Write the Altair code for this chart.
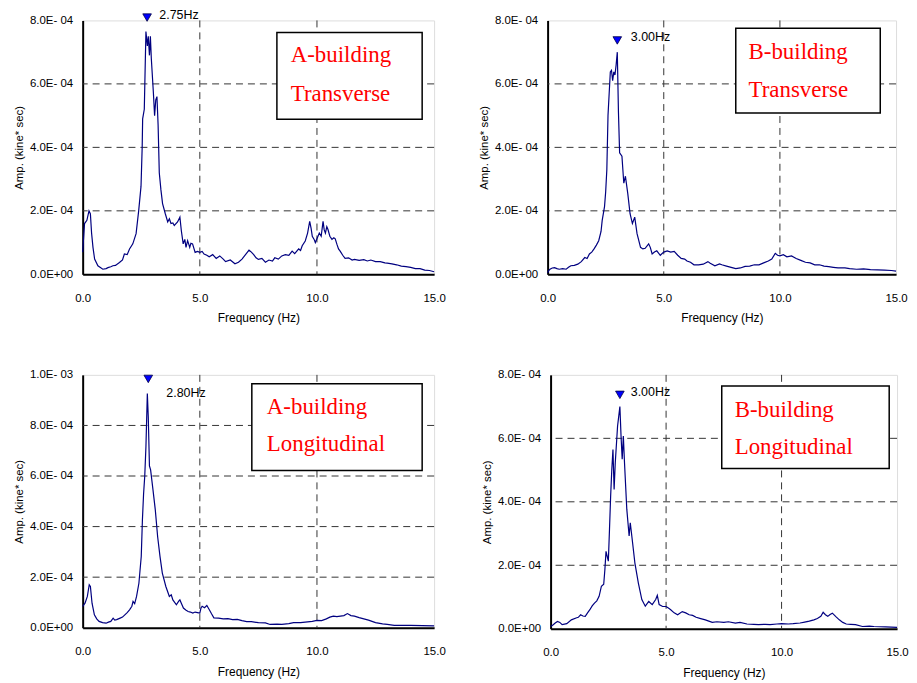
import json
import altair as alt
import pandas as pd

# ---------------- data (amplitudes in units of 1e-4 kine*sec) ----------------
freq_a_trans = [0.0, 0.08, 0.18, 0.27, 0.33, 0.38, 0.44, 0.51, 0.65, 0.86, 1.0, 1.08, 1.2, 1.29, 1.4, 1.57,
                1.7, 1.78, 1.9, 2.0, 2.14, 2.28, 2.39, 2.49, 2.54, 2.56, 2.63, 2.7, 2.76, 2.8, 2.85, 2.89,
                2.93, 3.02, 3.07, 3.12, 3.17, 3.22, 3.27, 3.34, 3.41, 3.53, 3.63, 3.7, 3.77, 3.85, 3.91,
                4.05, 4.15, 4.21, 4.29, 4.36, 4.41, 4.48, 4.57, 4.62, 4.69, 4.8, 4.9, 5.0, 5.1, 5.18, 5.3,
                5.4, 5.55, 5.7, 5.85, 6.0, 6.1, 6.3, 6.5, 6.65, 6.8, 6.95, 7.1, 7.2, 7.3, 7.4, 7.5, 7.65,
                7.8, 7.95, 8.1, 8.2, 8.35, 8.5, 8.65, 8.8, 8.94, 9.05, 9.22, 9.3, 9.37, 9.5, 9.6, 9.69,
                9.75, 9.8, 9.88, 9.93, 10.0, 10.1, 10.18, 10.26, 10.31, 10.36, 10.42, 10.47, 10.55, 10.64,
                10.72, 10.78, 10.85, 10.92, 10.99, 11.1, 11.2, 11.35, 11.5, 11.6, 11.8, 12.0, 12.15, 12.3,
                12.5, 12.7, 12.9, 13.0, 13.2, 13.4, 13.6, 13.8, 14.0, 14.2, 14.4, 14.6, 14.8, 15.0]
amp_a_trans = [0.7, 1.6, 1.7, 2.0, 1.9, 1.3, 0.85, 0.48, 0.27, 0.16, 0.18, 0.21, 0.24, 0.27, 0.28, 0.37,
               0.45, 0.64, 0.62, 0.8, 0.96, 1.28, 2.0, 2.77, 4.0, 4.9, 5.2, 7.65, 7.2, 7.5, 6.9, 7.5,
               6.8, 5.7, 5.0, 5.5, 5.6, 4.7, 3.2, 2.66, 2.23, 1.9, 1.65, 1.75, 1.6, 1.62, 1.54,
               1.65, 1.8, 1.38, 0.96, 1.1, 0.85, 1.06, 0.85, 0.98, 0.96, 0.69, 0.72, 0.69, 0.72, 0.64, 0.6,
               0.55, 0.62, 0.5, 0.58, 0.48, 0.4, 0.45, 0.33, 0.38, 0.48, 0.62, 0.76, 0.7, 0.62, 0.52, 0.47, 0.5,
               0.38, 0.45, 0.42, 0.52, 0.48, 0.58, 0.62, 0.6, 0.73, 0.65, 0.8, 0.75, 0.9, 1.05, 1.3, 1.67,
               1.45, 1.2, 1.1, 1.0, 1.12, 1.3, 1.2, 1.67, 1.4, 1.3, 1.5, 1.41, 1.2, 1.1,
               1.15, 1.12, 0.95, 0.8, 0.73, 0.6, 0.5, 0.52, 0.45, 0.47, 0.44, 0.46, 0.42, 0.45,
               0.4, 0.4, 0.36, 0.35, 0.33, 0.3, 0.26, 0.24, 0.22, 0.18, 0.18, 0.13, 0.12, 0.08]

freq_b_trans = [0.0, 0.05, 0.1, 0.2, 0.3, 0.4, 0.5, 0.65, 0.8, 0.9, 1.0, 1.15, 1.3, 1.45, 1.6, 1.7, 1.8,
                1.9, 2.0, 2.1, 2.2, 2.3, 2.35, 2.45, 2.5, 2.55, 2.6, 2.65, 2.7, 2.75, 2.8, 2.85, 2.9, 2.95,
                3.0, 3.05, 3.1, 3.2, 3.28, 3.35, 3.45, 3.55, 3.65, 3.75, 3.85, 4.0, 4.1, 4.2, 4.35, 4.42,
                4.5, 4.6, 4.7, 4.85, 5.0, 5.15, 5.3, 5.45, 5.6, 5.75, 5.9, 6.0, 6.15, 6.3, 6.5, 6.7, 6.9,
                7.0, 7.2, 7.4, 7.5, 7.7, 7.9, 8.1, 8.3, 8.5, 8.7, 8.9, 9.1, 9.3, 9.5, 9.65, 9.8, 9.9, 10.0,
                10.15, 10.3, 10.5, 10.7, 10.9, 11.1, 11.3, 11.5, 11.7, 11.9, 12.1, 12.3, 12.5, 12.8, 13.0,
                13.3, 13.6, 13.9, 14.2, 14.5, 14.8, 15.0]
amp_b_trans = [0.05, 0.12, 0.16, 0.2, 0.21, 0.18, 0.16, 0.18, 0.16, 0.22, 0.27, 0.28, 0.32, 0.4, 0.53, 0.5, 0.64,
               0.7, 0.8, 0.92, 1.06, 1.35, 1.7, 2.13, 2.6, 3.3, 5.0, 5.7, 6.38, 6.43, 6.1, 6.38, 6.28, 6.6,
               7.0, 5.1, 3.83, 3.72, 2.87, 3.09, 2.55, 1.91, 1.6, 1.8, 1.28, 0.85, 0.8, 0.82, 0.96, 0.85,
               0.64, 0.7, 0.74, 0.6, 0.7, 0.74, 0.7, 0.72, 0.6, 0.5, 0.48, 0.42, 0.38, 0.3, 0.3, 0.32, 0.4,
               0.35, 0.27, 0.33, 0.3, 0.26, 0.22, 0.18, 0.2, 0.25, 0.26, 0.3, 0.3, 0.36, 0.42, 0.48, 0.66, 0.6, 0.58,
               0.62, 0.55, 0.58, 0.5, 0.44, 0.38, 0.36, 0.3, 0.3, 0.26, 0.24, 0.22, 0.2, 0.2, 0.18,
               0.16, 0.17, 0.15, 0.14, 0.13, 0.12, 0.1]

freq_a_long = [0.0, 0.1, 0.2, 0.28, 0.33, 0.4, 0.5, 0.6, 0.7, 0.85, 1.0, 1.1, 1.2, 1.3, 1.37, 1.45, 1.6, 1.7,
               1.8, 1.9, 2.0, 2.1, 2.15, 2.22, 2.3, 2.4, 2.5, 2.55, 2.6, 2.65, 2.7, 2.76, 2.8, 2.85, 2.9, 3.0,
               3.1, 3.2, 3.3, 3.4, 3.55, 3.7, 3.78, 3.85, 4.0, 4.1, 4.15, 4.22, 4.3, 4.4, 4.5, 4.6, 4.7, 4.8,
               4.9, 5.0, 5.05, 5.1, 5.2, 5.3, 5.4, 5.5, 5.6, 5.8, 6.0, 6.2, 6.4, 6.6, 6.8, 7.0, 7.2, 7.5, 7.8,
               8.0, 8.3, 8.5, 8.8, 9.0, 9.3, 9.5, 9.8, 10.0, 10.2, 10.4, 10.55, 10.7, 10.85, 11.0, 11.15, 11.3,
               11.45, 11.6, 11.8, 12.0, 12.2, 12.5, 12.8, 13.0, 13.3, 13.6, 14.0, 14.5, 15.0]
amp_a_long = [0.84, 0.97, 1.24, 1.7, 1.63, 0.97, 0.51, 0.35, 0.25, 0.2, 0.18, 0.22, 0.25, 0.38, 0.3, 0.32, 0.38, 0.42,
              0.51, 0.6, 0.71, 0.85, 1.04, 0.95, 1.24, 1.76, 2.82, 4.26, 5.3, 6.0, 7.16, 9.26, 8.34, 6.4, 6.24, 5.46,
              4.66, 3.6, 2.82, 2.16, 1.63, 1.24, 1.3, 1.1, 0.91, 1.05, 1.1, 0.95, 0.78, 0.7, 0.64, 0.62, 0.58, 0.62,
              0.6, 0.58, 0.78, 0.85, 0.79, 0.88, 0.72, 0.55, 0.39, 0.38, 0.35, 0.36, 0.32, 0.33, 0.28, 0.24, 0.24, 0.2, 0.19,
              0.13, 0.14, 0.13, 0.16, 0.2, 0.2, 0.22, 0.25, 0.29, 0.28, 0.35, 0.42, 0.46, 0.44, 0.46, 0.48, 0.56,
              0.48, 0.46, 0.4, 0.35, 0.3, 0.2, 0.15, 0.13, 0.09, 0.09, 0.09, 0.08, 0.07]

freq_b_long = [0.0, 0.1, 0.2, 0.3, 0.4, 0.5, 0.7, 0.9, 1.1, 1.2, 1.3, 1.4, 1.5, 1.6, 1.7, 1.8, 1.9, 2.0, 2.1,
               2.2, 2.3, 2.35, 2.4, 2.45, 2.5, 2.55, 2.6, 2.65, 2.7, 2.75, 2.8, 2.9, 3.0, 3.05, 3.1, 3.15, 3.2,
               3.3, 3.4, 3.45, 3.55, 3.65, 3.8, 3.95, 4.1, 4.25, 4.4, 4.55, 4.62, 4.7, 4.85, 5.0, 5.1, 5.2,
               5.35, 5.5, 5.7, 5.85, 6.0, 6.15, 6.3, 6.5, 6.7, 6.85, 7.0, 7.2, 7.5, 7.7, 8.0, 8.2, 8.5, 8.8,
               9.0, 9.3, 9.5, 9.8, 10.0, 10.3, 10.5, 10.8, 11.0, 11.2, 11.4, 11.55, 11.7, 11.8, 11.9, 12.0,
               12.1, 12.2, 12.35, 12.5, 12.65, 12.8, 13.0, 13.2, 13.5, 13.8, 14.0, 14.5, 15.0]
amp_b_long = [0.07, 0.12, 0.18, 0.23, 0.2, 0.13, 0.16, 0.28, 0.34, 0.36, 0.44, 0.4, 0.39, 0.5, 0.6, 0.72, 0.81, 0.88, 1.02,
              1.34, 1.4, 1.86, 2.44, 2.28, 2.13, 3.13, 4.18, 5.02, 5.65, 4.39, 5.23, 6.39, 7.0, 6.07, 5.34, 6.07, 5.23,
              3.76, 2.92, 3.34, 2.71, 2.07, 1.44, 0.92, 0.71, 0.86, 0.76, 0.92, 1.05, 0.76, 0.7, 0.7, 0.65, 0.6,
              0.5, 0.44, 0.54, 0.5, 0.44, 0.42, 0.36, 0.32, 0.28, 0.24, 0.2, 0.22, 0.2, 0.22, 0.18, 0.2, 0.15, 0.14,
              0.13, 0.14, 0.13, 0.15, 0.16, 0.15, 0.16, 0.18, 0.21, 0.24, 0.28, 0.32, 0.39, 0.52, 0.44, 0.39,
              0.45, 0.49, 0.38, 0.28, 0.2, 0.15, 0.14, 0.13, 0.07, 0.08, 0.07, 0.06, 0.04]

# panel texts
box_line1 = ["A-building", "B-building", "A-building", "B-building"]
box_line2 = ["Transverse", "Transverse", "Longitudinal", "Longitudinal"]
peak_freq = [2.75, 3.00, 2.80, 3.00]
peak_label = ["2.75Hz", "3.00Hz", "2.80Hz", "3.00Hz"]

# axes
x_ticks = [0, 5, 10, 15]
y_max = [8.0, 8.0, 10.0, 8.0]  # x1e-4
y_labels_8 = ["0.0E+00", "2.0E- 04", "4.0E- 04", "6.0E- 04", "8.0E- 04"]
y_labels_10 = ["0.0E+00", "2.0E- 04", "4.0E- 04", "6.0E- 04", "8.0E- 04", "1.0E- 03"]

# annotation anchors (data units: Hz, 1e-4)
box_x = [(8.29, 14.49), (8.10, 14.32), (7.22, 14.49), (7.41, 14.66)]
box_y = [(4.89, 7.62), (5.08, 7.75), (6.22, 9.65), (5.05, 7.65)]
text_x = [8.88, 8.65, 7.86, 7.97]
text_y = [(6.90, 5.68), (7.00, 5.80), (8.74, 7.28), (6.90, 5.74)]
marker_y = [8.09, 7.37, 9.84, 7.37]
label_xy = [(3.27, 8.18), (3.58, 7.47), (3.57, 9.29), (3.47, 7.47)]

series = [(freq_a_trans, amp_a_trans), (freq_b_trans, amp_b_trans),
          (freq_a_long, amp_a_long), (freq_b_long, amp_b_long)]

AXIS_FONT = "Liberation Sans"


def panel(i, width, height):
    f, a = series[i]
    ymax = y_max[i] * 1e-4
    labels = y_labels_10 if y_max[i] == 10.0 else y_labels_8
    yticks = [k * 2e-4 for k in range(len(labels))]
    xs = alt.Scale(domain=[0, 15], nice=False, zero=False)
    ys = alt.Scale(domain=[0, ymax], nice=False)

    df = pd.DataFrame({"f": f, "amp": [v * 1e-4 for v in a]})

    xaxis = alt.Axis(values=x_ticks, format=".1f", title="Frequency (Hz)", grid=False, ticks=False,
                     tickSize=0, labelPadding=18, titlePadding=9, labelFlush=False,
                     domainColor="black", domainWidth=2, labelFont=AXIS_FONT, titleFont=AXIS_FONT,
                     labelFontSize=11.5, titleFontSize=12, titleFontWeight="normal",
                     labelColor="black", titleColor="black")
    yaxis = alt.Axis(values=yticks, labelExpr=f"{json.dumps(labels)}[round(datum.value / 0.0002)]",
                     title="Amp. (kine* sec)", grid=False, ticks=False, tickSize=0, labelPadding=10,
                     titlePadding=5, domainColor="black", domainWidth=2, labelFont=AXIS_FONT,
                     titleFont=AXIS_FONT, labelFontSize=11.5, titleFontSize=11.5,
                     titleFontWeight="normal", labelColor="black", titleColor="black")

    X = lambda fld: alt.X(fld, scale=xs, axis=xaxis)
    Y = lambda fld: alt.Y(fld, scale=ys, axis=yaxis)

    hgrid = pd.DataFrame({"y": [t for t in yticks if 0 < t < ymax - 1e-9]})
    vgrid = pd.DataFrame({"x": [t for t in x_ticks if 0 < t < 15]})

    hrules = alt.Chart(hgrid).mark_rule(color="#333333", strokeWidth=1, strokeDash=[7, 5]).encode(
        y=Y("y:Q"))
    vrules = alt.Chart(vgrid).mark_rule(color="#333333", strokeWidth=1, strokeDash=[7, 5]).encode(
        x=X("x:Q"))

    line = alt.Chart(df).mark_line(color="#000080", strokeWidth=1.2, interpolate="linear").encode(
        x=X("f:Q"), y=Y("amp:Q"), order="f:Q")

    bx = pd.DataFrame({"x": [box_x[i][0]], "x2": [box_x[i][1]],
                       "y": [box_y[i][0] * 1e-4], "y2": [box_y[i][1] * 1e-4]})
    box = alt.Chart(bx).mark_rect(fill="white", stroke="black", strokeWidth=1.5).encode(
        x=X("x:Q"), x2="x2:Q", y=Y("y:Q"), y2="y2:Q")

    tx = pd.DataFrame({"x": [text_x[i], text_x[i]],
                       "y": [text_y[i][0] * 1e-4, text_y[i][1] * 1e-4],
                       "t": [box_line1[i], box_line2[i]]})
    texts = alt.Chart(tx).mark_text(align="left", baseline="middle", font="Liberation Serif",
                                    fontSize=23, color="#ff0000").encode(
        x=X("x:Q"), y=Y("y:Q"), text="t:N")

    mk = pd.DataFrame({"x": [peak_freq[i]], "y": [marker_y[i] * 1e-4]})
    marker = alt.Chart(mk).mark_point(shape="triangle-down", filled=True, fill="#0000ff",
                                      stroke="#000040", strokeWidth=0.8, size=75, opacity=1).encode(
        x=X("x:Q"), y=Y("y:Q"))

    lb = pd.DataFrame({"x": [label_xy[i][0]], "y": [label_xy[i][1] * 1e-4], "t": [peak_label[i]]})
    label = alt.Chart(lb).mark_text(align="left", baseline="middle", font=AXIS_FONT,
                                    fontSize=12.5, color="black").encode(
        x=X("x:Q"), y=Y("y:Q"), text="t:N")

    return alt.layer(hrules, vrules, line, box, texts, marker, label).properties(
        width=width, height=height)


top = alt.hconcat(panel(0, 353, 255), panel(1, 350, 255), spacing=32)
bottom = alt.hconcat(panel(2, 353, 254), panel(3, 348, 255), spacing=35)

chart = alt.vconcat(top, bottom, spacing=44).properties(
    padding={"left": 5, "top": -2, "right": 0, "bottom": 0}
).configure_view(stroke="#444444", strokeWidth=1).configure(font=AXIS_FONT, background="white")

chart.save("out.html", embed_options={"renderer": "svg", "actions": False})
